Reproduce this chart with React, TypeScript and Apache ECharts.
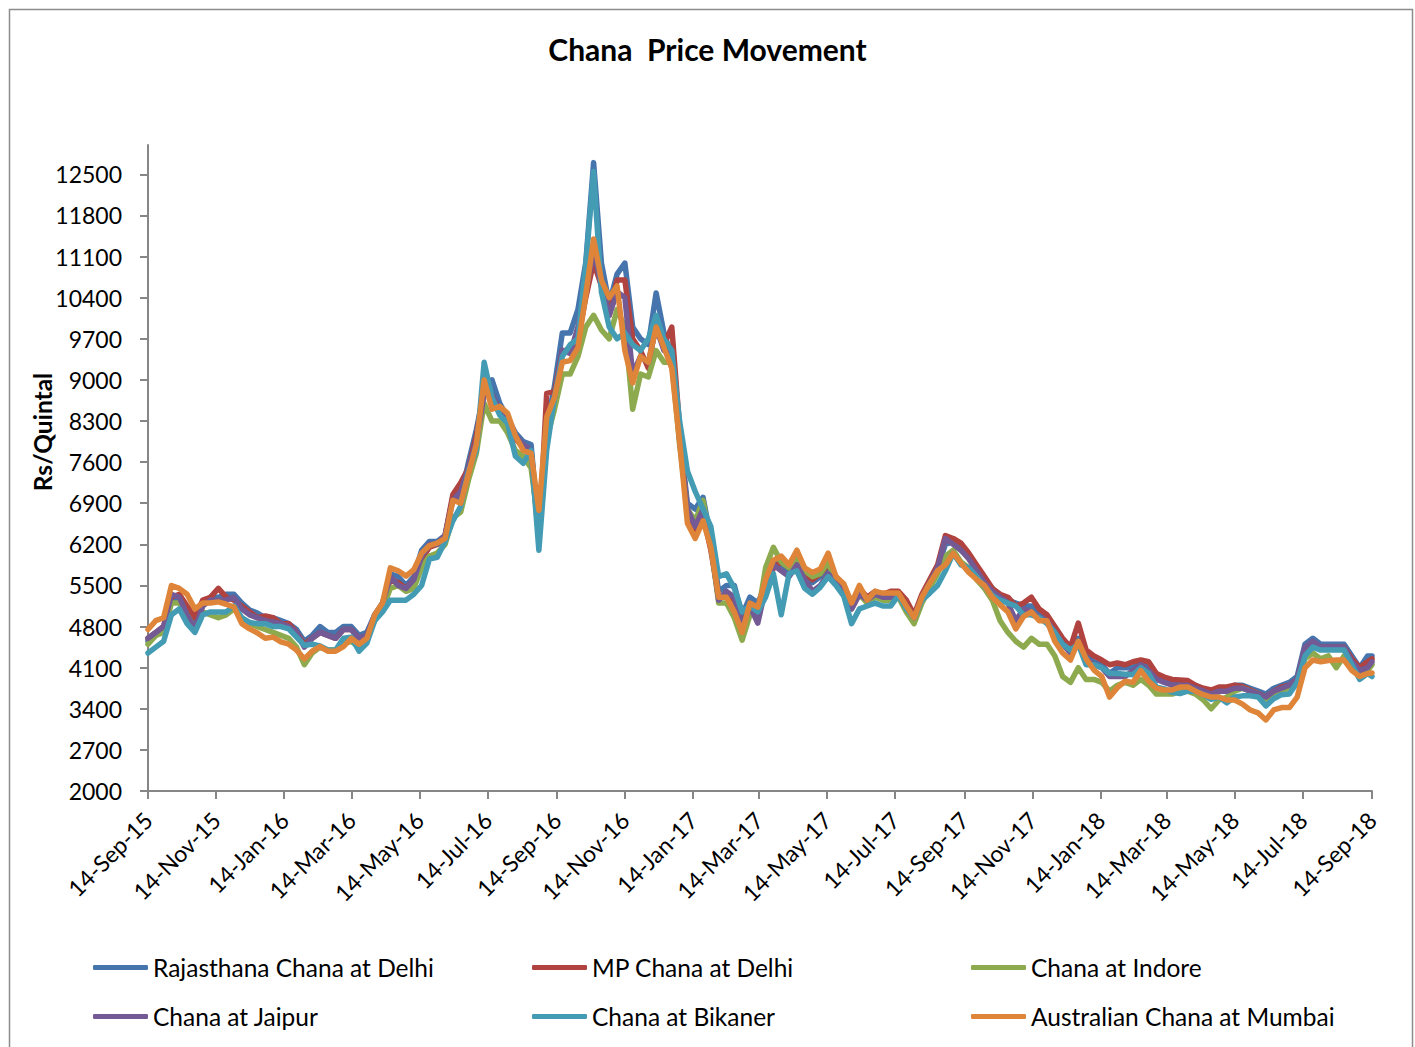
import React, { useEffect, useRef } from "react";
import * as echarts from "echarts";

const MONTHS = ["Jan", "Feb", "Mar", "Apr", "May", "Jun", "Jul", "Aug", "Sep", "Oct", "Nov", "Dec"];
const START_UTC = Date.UTC(2015, 8, 14);
const DAY_MS = 86400000;
const N_DAYS = 1097; // 14-Sep-15 .. 14-Sep-18

const dayDates = Array.from({ length: N_DAYS }, (_, i) => new Date(START_UTC + i * DAY_MS));
const dayLabels = dayDates.map(
  (d) => `${d.getUTCDate()}-${MONTHS[d.getUTCMonth()]}-${String(d.getUTCFullYear()).slice(2)}`
);
// weekly observation days (offset from 14-Sep-15) plus final day
const sampleDays = [...Array.from({ length: 157 }, (_, i) => i * 7), 1096];

const seriesNames = [
  "Rajasthana Chana at Delhi",
  "MP Chana at Delhi",
  "Chana at Indore",
  "Chana at Jaipur",
  "Chana at Bikaner",
  "Australian Chana at Mumbai",
];
const seriesColors = ["#4674AD", "#B0423F", "#8DAA4E", "#735A94", "#449CB4", "#DE853A"];

const rajasthanDelhi = [
  4550, 4650, 4750, 5250, 5300, 5100, 4900, 5200, 5300, 5300,
  5350, 5350, 5200, 5080, 5030, 4950, 4950, 4900, 4850, 4750,
  4550, 4650, 4800, 4700, 4700, 4800, 4800, 4650, 4700, 5000,
  5150, 5700, 5650, 5500, 5650, 6100, 6250, 6250, 6350, 7000,
  7000, 7600, 8150, 8800, 9000, 8600, 8350, 8100, 7950, 7900,
  6400, 8200, 8900, 9800, 9800, 10200, 11000, 12700, 10990, 10300,
  10800, 10990, 9900, 9700, 9600, 10480, 9800, 9400, 8100, 6900,
  6800, 7000, 6300, 5400, 5500, 5500, 5000, 5300, 5200, 5500,
  5900, 5800, 5750, 5900, 5700, 5550, 5650, 5800, 5600, 5450,
  5150, 5400, 5300, 5350, 5300, 5350, 5350, 5200, 4950, 5300,
  5550, 5800, 6200, 6250, 6100, 6000, 5800, 5600, 5450, 5300,
  5250, 5200, 5150, 5150, 5050, 4950, 4750, 4550, 4400, 4600,
  4300, 4200, 4150, 4000, 4100, 4100, 4100, 4200, 4100, 3950,
  3900, 3800, 3850, 3850, 3800, 3700, 3700, 3750, 3750, 3800,
  3800, 3750, 3700, 3650, 3750, 3800, 3850, 3950, 4500, 4600,
  4500, 4500, 4500, 4500, 4300, 4100, 4300, 4300,
];
const mpDelhi = [
  4600, 4700, 4800, 5300, 5350, 5150, 4950, 5250, 5300, 5450,
  5300, 5250, 5150, 5050, 4950, 4980, 4950, 4850, 4850, 4700,
  4500, 4600, 4700, 4650, 4600, 4750, 4750, 4600, 4650, 4950,
  5200, 5600, 5550, 5450, 5600, 5950, 6150, 6200, 6350, 7050,
  7250, 7500, 8050, 8850, 8700, 8500, 8300, 8000, 7850, 7700,
  6300, 8770, 8800, 9500, 9500, 9700, 10400, 11000, 10600, 10100,
  10700, 10700, 9700, 9500, 9200, 10000, 9600, 9900, 8200, 6700,
  6400, 6700, 6100, 5300, 5350, 5250, 4850, 5100, 5050, 5400,
  5800, 5900, 5800, 5950, 5700, 5600, 5700, 5850, 5650, 5500,
  5200, 5450, 5300, 5400, 5350, 5400, 5400, 5250, 5000, 5350,
  5600, 5850, 6350, 6300, 6220, 6050, 5850, 5650, 5450, 5350,
  5300, 5150, 5200, 5300, 5100, 5000, 4800, 4600, 4450, 4860,
  4400, 4300, 4230, 4150, 4180, 4150, 4200, 4230, 4200, 4000,
  3940, 3900, 3890, 3880, 3800, 3750, 3720, 3770, 3770, 3800,
  3780, 3720, 3660, 3600, 3700, 3770, 3800, 3900, 4400, 4500,
  4450, 4450, 4450, 4450, 4250, 4100, 4200, 4250,
];
const indore = [
  4500, 4650, 4700, 5200, 5200, 5000, 4750, 5050, 5000, 4950,
  5000, 5100, 4950, 4850, 4800, 4750, 4700, 4650, 4600, 4450,
  4150, 4350, 4450, 4400, 4400, 4500, 4550, 4450, 4600, 4900,
  5100, 5450, 5500, 5400, 5450, 5800, 6000, 6050, 6200, 6650,
  6750, 7300, 7750, 8600, 8300, 8300, 8100, 7800, 7700, 7500,
  6500, 8000, 8500, 9100, 9100, 9400, 9900, 10100, 9850, 9700,
  10200, 9900, 8500, 9100, 9050, 9500, 9300, 9300, 7900, 6800,
  6600, 6950, 6200, 5200, 5200, 4950, 4570, 5000, 5000, 5800,
  6150, 5900, 5800, 6000, 5750, 5650, 5700, 5900, 5550, 5400,
  5100, 5350, 5200, 5300, 5250, 5250, 5300, 5050, 4850, 5200,
  5450, 5700, 6000, 6100, 5900, 5800, 5600, 5450, 5250, 4900,
  4700, 4550, 4450, 4600, 4500, 4500, 4300, 3950, 3850, 4100,
  3900, 3900, 3850, 3700, 3800, 3850, 3800, 3900, 3800, 3650,
  3650, 3650, 3700, 3700, 3650, 3550, 3400, 3550, 3600, 3700,
  3750, 3700, 3650, 3550, 3650, 3700, 3750, 3850, 4250, 4350,
  4250, 4300, 4100, 4300, 4100, 4000, 4050, 4150,
];
const jaipur = [
  4600, 4700, 4800, 5350, 5300, 5000, 4750, 5150, 5250, 5250,
  5250, 5300, 5100, 5000, 4950, 4900, 4880, 4850, 4800, 4700,
  4450, 4600, 4700, 4650, 4600, 4750, 4750, 4600, 4650, 5000,
  5200, 5650, 5500, 5450, 5600, 6000, 6200, 6200, 6350, 6950,
  7100, 7500, 7950, 8750, 8750, 8500, 8350, 8050, 7900, 7800,
  6400, 8300, 8700, 9500, 9450, 9900, 10500, 11200, 10600, 10100,
  10500, 10400, 9100, 9400, 9300, 9900, 9500, 9450, 8000, 6800,
  6500, 6800, 6200, 5250, 5400, 5300, 4800, 5150, 4860, 5450,
  5850, 5750, 5650, 5850, 5600, 5400, 5500, 5700, 5550, 5400,
  5100, 5350, 5250, 5350, 5300, 5300, 5350, 5150, 4950, 5300,
  5550, 5800, 6300, 6200, 6100, 5950, 5750, 5550, 5400, 5300,
  5200, 4900, 5100, 5050, 4950, 4900, 4700, 4500, 4350, 4500,
  4250, 4150, 4100, 3950, 3950, 3950, 4050, 4150, 4050, 3900,
  3850, 3800, 3800, 3800, 3750, 3700, 3650, 3700, 3700, 3750,
  3750, 3700, 3650, 3600, 3700, 3750, 3800, 3900, 4450, 4550,
  4450, 4450, 4450, 4450, 4200, 4050, 4100, 4200,
];
const bikaner = [
  4350, 4450, 4550, 5000, 5100, 4850, 4700, 5000, 5050, 5050,
  5050, 5150, 4950, 4870, 4850, 4850, 4800, 4800, 4760, 4620,
  4480, 4500, 4470, 4400, 4400, 4600, 4620, 4380, 4520, 4900,
  5050, 5250, 5250, 5250, 5350, 5500, 5950, 5980, 6250, 6600,
  6850, 7450, 7800, 9300, 8700, 8400, 8260, 7700, 7580, 7800,
  6100, 7800, 8700, 9400, 9600, 9700, 10950, 12550, 10500, 9900,
  9700, 9800, 9600, 9500, 9700, 10100, 9700, 9500, 8300, 7450,
  7100, 6800, 6500, 5650, 5700, 5450, 5050, 5150, 5050, 5300,
  5700, 5000, 5700, 5750, 5450, 5350, 5470, 5650, 5500, 5320,
  4850, 5100, 5150, 5200, 5150, 5150, 5330, 5100, 4950, 5250,
  5370, 5500, 5750, 6050, 5850, 5800, 5650, 5480, 5330, 5250,
  5200, 5150, 5000, 5000, 4950, 4850, 4700, 4500, 4400, 4500,
  4150, 4150, 4100, 4000, 4000, 3990, 3980, 4100, 4000, 3770,
  3740, 3680, 3660, 3700, 3700, 3640, 3560, 3600, 3500, 3600,
  3620, 3620, 3600, 3450, 3570, 3640, 3650, 3850, 4300, 4450,
  4400, 4400, 4400, 4400, 4150, 3900, 4000, 3950,
];
const australianMumbai = [
  4750, 4900, 4950, 5500, 5450, 5350, 5100, 5200, 5200, 5220,
  5180, 5130, 4850, 4760, 4690, 4600, 4620, 4540, 4500, 4400,
  4250, 4380, 4460, 4380, 4380, 4460, 4600, 4500, 4600, 5000,
  5200, 5800, 5750, 5660, 5770, 6050, 6180, 6220, 6300, 6950,
  6900, 7400, 7900, 9000, 8500, 8550, 8430, 8050, 7800, 7750,
  6780, 8370, 8700, 9300, 9330, 9550, 10450, 11400, 10700, 10400,
  10600, 9500, 8950, 9400, 9300, 9900, 9550, 9200, 7950, 6560,
  6300, 6600, 6150, 5300, 5300, 5050, 4700, 5200, 5130, 5600,
  5930, 6000, 5850, 6100, 5800, 5720, 5780, 6050, 5650, 5530,
  5200, 5500, 5250, 5400, 5370, 5370, 5370, 5150, 4950, 5300,
  5540, 5750, 5850, 6050, 5880, 5720, 5600, 5500, 5300, 5170,
  5050, 4760, 4970, 5050, 4900, 4900, 4550, 4350, 4230, 4550,
  4250, 4060, 3950, 3600, 3760, 3870, 3850, 4050, 3870, 3750,
  3720, 3720, 3770, 3770, 3700, 3640, 3600, 3600, 3550, 3550,
  3480, 3380, 3330, 3210, 3380, 3420, 3420, 3600, 4100, 4230,
  4200, 4220, 4230, 4230, 4050, 3950, 4000, 4010,
];
const seriesValues = [rajasthanDelhi, mpDelhi, indore, jaipur, bikaner, australianMumbai];

const yTicks = [2000, 2700, 3400, 4100, 4800, 5500, 6200, 6900, 7600, 8300, 9000, 9700, 10400, 11100, 11800, 12500];

const FONT = "Lato, 'Open Sans', sans-serif";
const isMajorDay = (index: number) => {
  const d = dayDates[index];
  return !!d && d.getUTCDate() === 14 && d.getUTCMonth() % 2 === 0;
};

export default function App() {
  const ref = useRef<HTMLDivElement>(null);
  useEffect(() => {
    if (!ref.current) return;
    const chart = echarts.init(ref.current, undefined, { renderer: "svg" });
    const legendCol = (left: number, names: string[]) => ({
      orient: "vertical",
      left,
      top: 950,
      itemGap: 24,
      itemWidth: 55,
      itemHeight: 5,
      icon: "roundRect",
      selectedMode: false,
      data: names,
      textStyle: { fontFamily: FONT, fontSize: 24.5, color: "#000", lineHeight: 24 },
    });
    chart.setOption({
      animation: false,
      backgroundColor: "#fff",
      title: {
        text: "Chana  Price Movement",
        left: "center",
        top: 29,
        textStyle: { fontFamily: FONT, fontSize: 30, fontWeight: "bold", color: "#000" },
      },
      graphic: [
        {
          type: "rect",
          shape: { x: 9.5, y: 9.5, width: 1403, height: 1060 },
          style: { fill: "none", stroke: "#8c8c8c", lineWidth: 1.5 },
          silent: true,
        },
        {
          type: "text",
          x: 42,
          y: 432,
          rotation: Math.PI / 2,
          style: {
            text: "Rs/Quintal",
            fontFamily: FONT,
            fontSize: 24.5,
            fontWeight: "bold",
            fill: "#000",
            align: "center",
            verticalAlign: "middle",
          },
        },
      ],
      legend: [
        legendCol(88, [seriesNames[0], seriesNames[3]]),
        legendCol(527, [seriesNames[1], seriesNames[4]]),
        legendCol(966, [seriesNames[2], seriesNames[5]]),
      ],
      grid: { left: 148, right: 43, top: 145, bottom: 256, containLabel: false },
      xAxis: {
        type: "category",
        data: dayLabels,
        boundaryGap: false,
        axisLine: { lineStyle: { color: "#868686", width: 2 } },
        axisTick: {
          interval: (index: number) => isMajorDay(index),
          length: 8,
          lineStyle: { color: "#868686", width: 2 },
        },
        axisLabel: {
          interval: (index: number) => isMajorDay(index),
          rotate: 45,
          margin: 25,
          fontFamily: FONT,
          fontSize: 23,
          color: "#000",
        },
        splitLine: { show: false },
      },
      yAxis: {
        type: "value",
        min: 2000,
        max: 13000,
        axisLine: { show: true, lineStyle: { color: "#868686", width: 2 } },
        axisTick: { show: true, length: 8, customValues: yTicks, lineStyle: { color: "#868686", width: 2 } },
        axisLabel: {
          customValues: yTicks,
          margin: 26,
          fontFamily: FONT,
          fontSize: 23,
          color: "#000",
          formatter: (v: number) => String(v),
        },
        splitLine: { show: false },
      },
      series: seriesNames.map((name, s) => ({
        name,
        type: "line",
        symbol: "none",
        smooth: false,
        color: seriesColors[s],
        lineStyle: { width: 5.5, color: seriesColors[s], cap: "round", join: "round" },
        data: seriesValues[s].map((v, k) => [sampleDays[k], v]),
      })),
    });
    return () => chart.dispose();
  }, []);
  return (
    <div
      ref={ref}
      style={{ position: "absolute", left: 0, top: 0, width: 1415, height: 1047 }}
    />
  );
}
